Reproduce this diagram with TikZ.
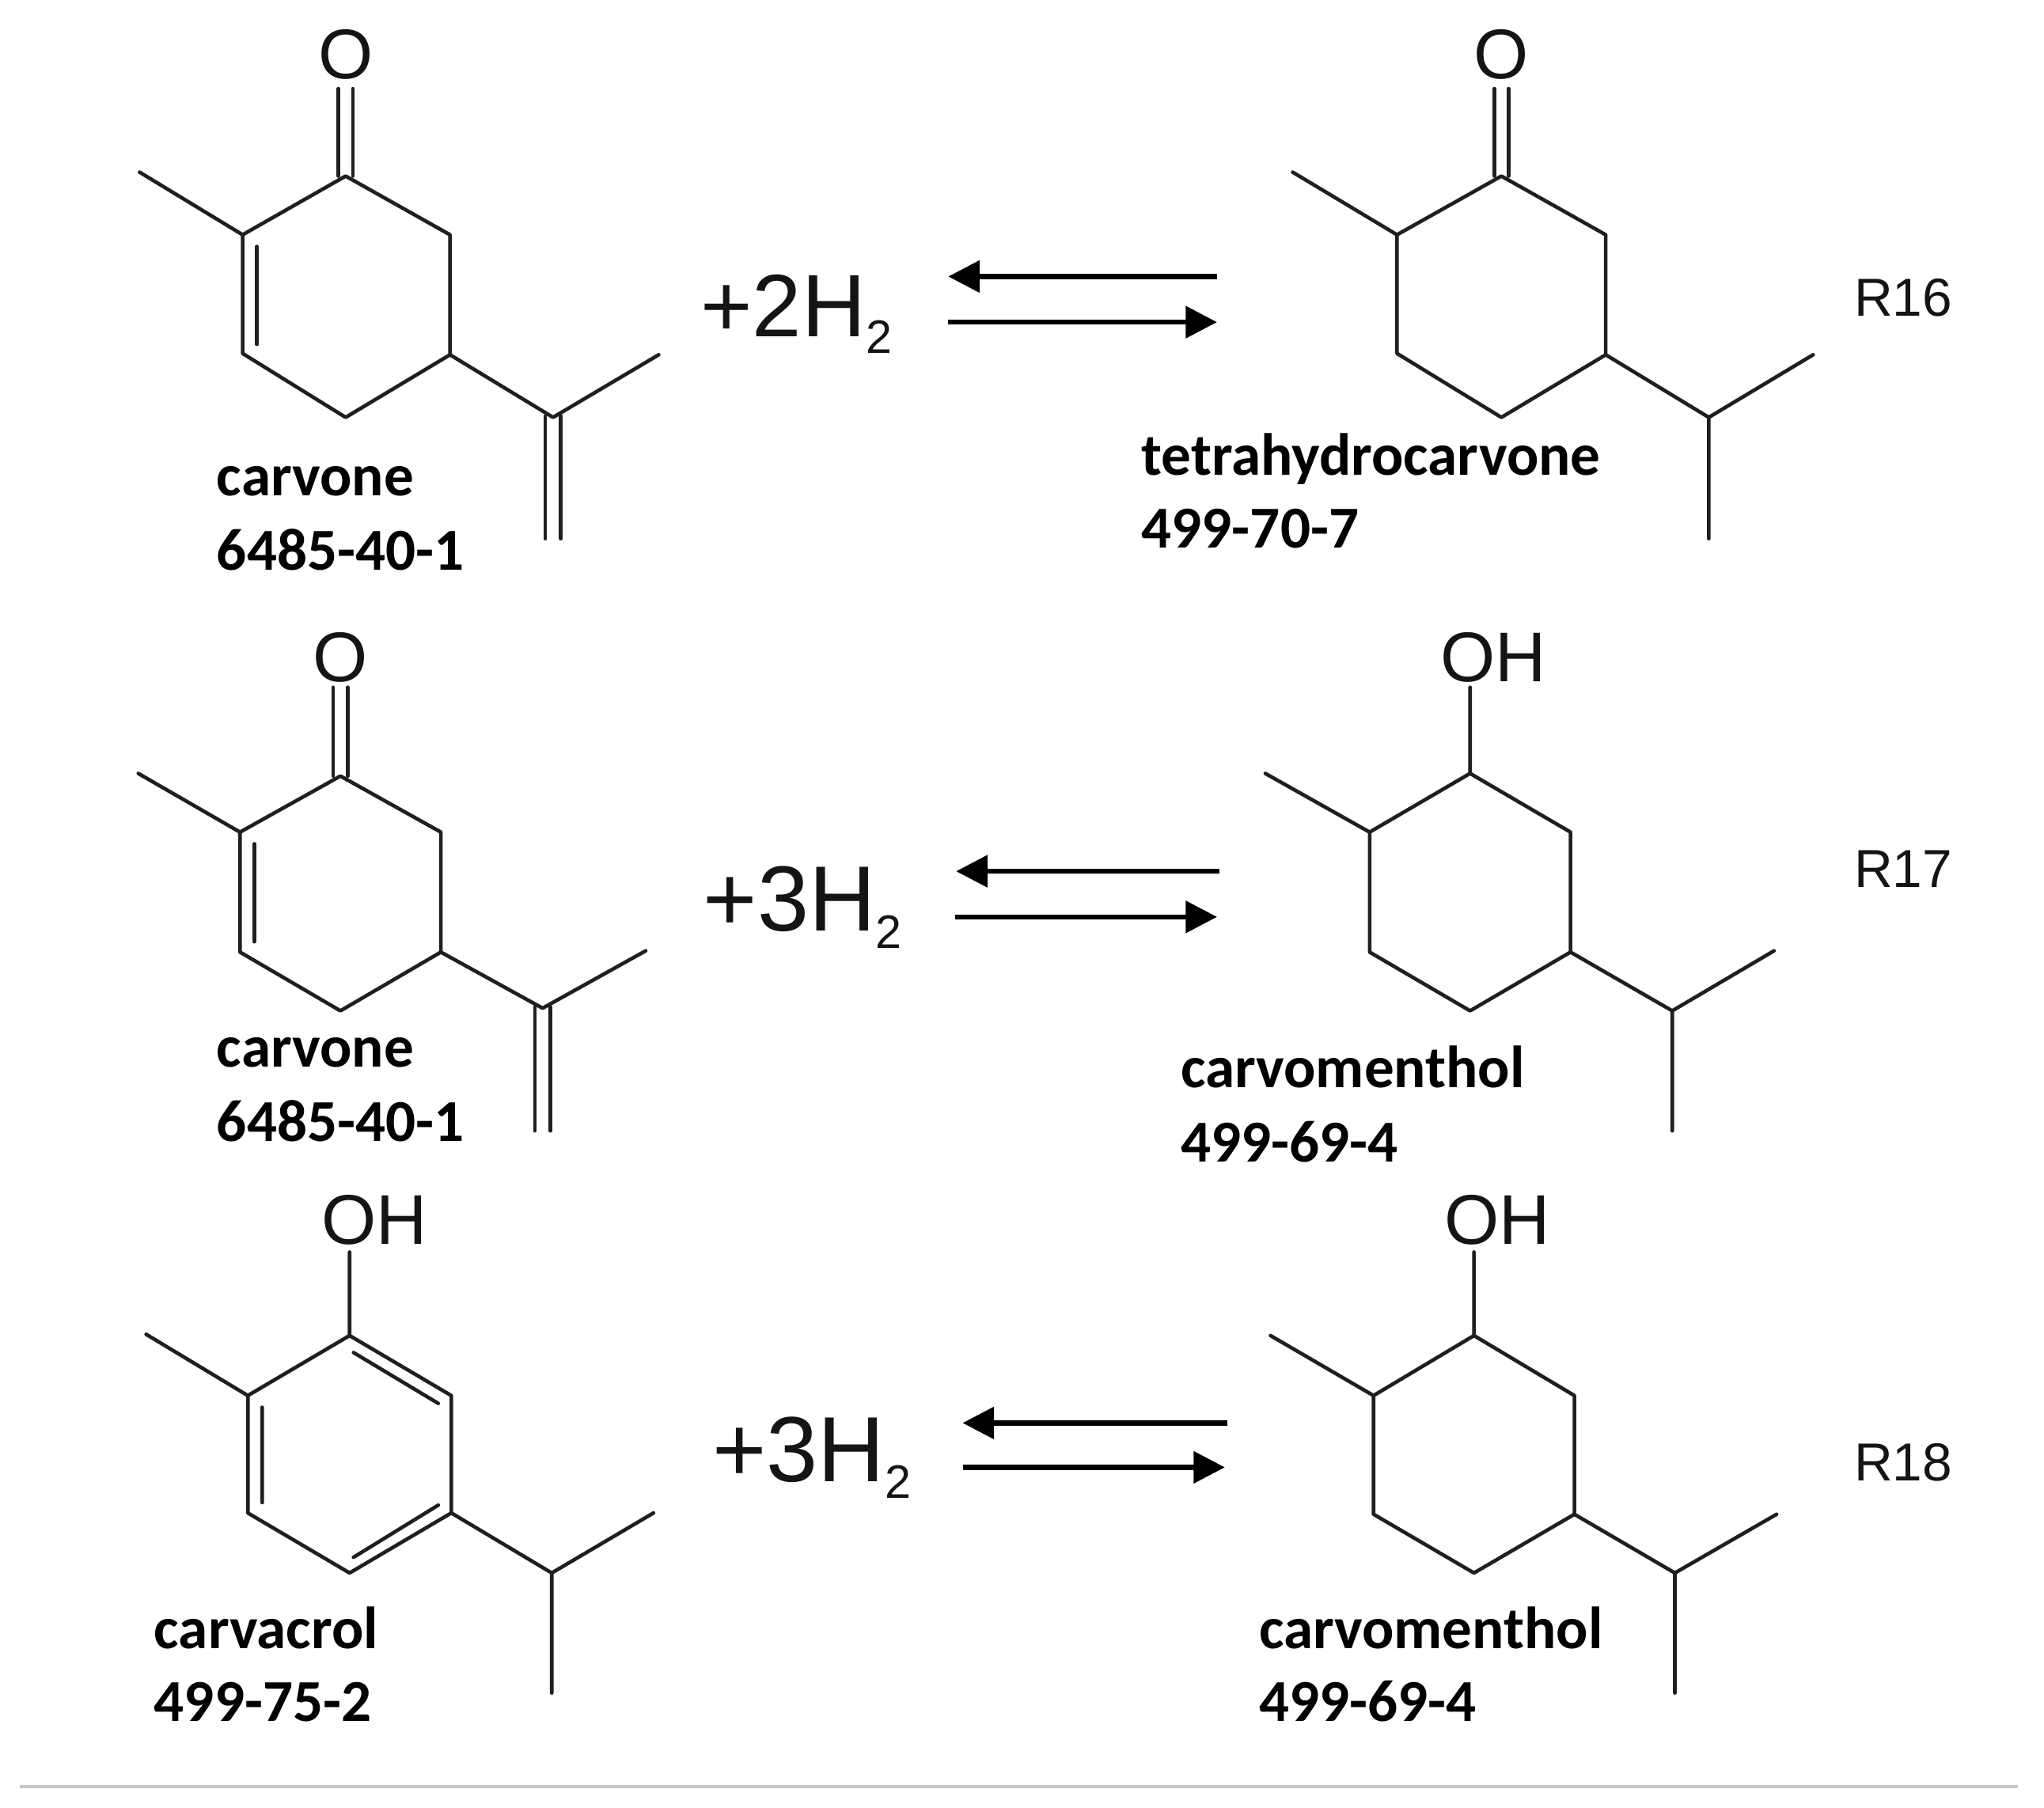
\documentclass[tikz,border=0pt]{standalone}
\usepackage{fontspec}
\setmainfont{Liberation Sans}
\newfontfamily\labelfont{Carlito}
\usetikzlibrary{arrows.meta}
\newcommand{\hplus}[1]{#1H{\fontsize{36}{36}\selectfont\raisebox{-13pt}{2}}}
\tikzset{
  x=1pt,y=-1pt,
  bond/.style={line width=2.8pt,draw=black!88,line cap=round,line join=round},
  eqarrow/.style={line width=3.8pt,draw=black,-{Triangle[length=24pt,width=24pt]}},
  atom/.style={font=\fontsize{54}{54}\selectfont,inner sep=0pt,text=black!92},
  reagent/.style={font=\fontsize{68}{68}\selectfont,inner sep=0pt,anchor=base west,text=black!92},
  reagentb/.style={reagent,font=\fontsize{71}{71}\selectfont},
  rlabel/.style={font=\fontsize{41}{41}\selectfont,inner sep=0pt,text=black!92},
  clabel/.style={font=\labelfont\bfseries\fontsize{45.6}{46}\selectfont,inner sep=0pt,anchor=base west,text=black},
}
\begin{document}
\begin{tikzpicture}
\useasboundingbox[fill=white] (0,0) rectangle (1567,1386.2);

% --- carvone (row 1)
\node[atom] (aO) at (265,42) {O};
\coordinate (a1) at (265,135); \coordinate (a2) at (186,180); \coordinate (a3) at (186,271);
\coordinate (a4) at (265,320); \coordinate (a5) at (345,272); \coordinate (a6) at (345,180);
\coordinate (aMe) at (107,132); \coordinate (aI) at (424,320); \coordinate (aIm) at (505,272);
\coordinate (aIda) at (418,319); \coordinate (aIdb) at (430,319);
\coordinate (aEa) at (418,413); \coordinate (aEb) at (430,413);
\coordinate (aCa) at (259.5,135); \coordinate (aCb) at (270.5,135);
\coordinate (aOa) at (259.5,68); \coordinate (aOb) at (270.5,68);
\coordinate (aDa) at (197,189); \coordinate (aDb) at (197,264);
\draw[bond] (a1) -- (a2) -- (a3) -- (a4) -- (a5) -- (a6) -- cycle;
\draw[bond] (aMe) -- (a2) (a5) -- (aI) -- (aIm);
\draw[bond] (aIda) -- (aEa) (aIdb) -- (aEb) (aCa) -- (aOa) (aCb) -- (aOb) (aDa) -- (aDb);

% --- tetrahydrocarvone (row 1)
\node[atom] (bO) at (1151,42) {O};
\coordinate (b1) at (1151,135); \coordinate (b2) at (1071,180); \coordinate (b3) at (1071,271);
\coordinate (b4) at (1151,320); \coordinate (b5) at (1231,272); \coordinate (b6) at (1231,180);
\coordinate (bMe) at (991,132); \coordinate (bI) at (1310,320); \coordinate (bIm) at (1390,272);
\coordinate (bId) at (1310,413);
\coordinate (bCa) at (1145.5,135); \coordinate (bCb) at (1156.5,135);
\coordinate (bOa) at (1145.5,68); \coordinate (bOb) at (1156.5,68);
\draw[bond] (b1) -- (b2) -- (b3) -- (b4) -- (b5) -- (b6) -- cycle;
\draw[bond] (bMe) -- (b2) (b5) -- (bI) -- (bIm) (bI) -- (bId);
\draw[bond] (bCa) -- (bOa) (bCb) -- (bOb);

% --- carvone (row 2)
\node[atom] (cO) at (261,504) {O};
\coordinate (c1) at (261,595); \coordinate (c2) at (184,638); \coordinate (c3) at (184,730);
\coordinate (c4) at (261,775); \coordinate (c5) at (338,730); \coordinate (c6) at (338,638);
\coordinate (cMe) at (106,593); \coordinate (cI) at (416,773); \coordinate (cIm) at (495,729);
\coordinate (cIda) at (410,772); \coordinate (cIdb) at (422,772);
\coordinate (cEa) at (410,867); \coordinate (cEb) at (422,867);
\coordinate (cCa) at (255.5,595); \coordinate (cCb) at (266.5,595);
\coordinate (cOa) at (255.5,527); \coordinate (cOb) at (266.5,527);
\coordinate (cDa) at (195,647); \coordinate (cDb) at (195,722);
\draw[bond] (c1) -- (c2) -- (c3) -- (c4) -- (c5) -- (c6) -- cycle;
\draw[bond] (cMe) -- (c2) (c5) -- (cI) -- (cIm);
\draw[bond] (cIda) -- (cEa) (cIdb) -- (cEb) (cCa) -- (cOa) (cCb) -- (cOb) (cDa) -- (cDb);

% --- carvomenthol (row 2)
\node[atom] (dO) at (1145,504) {OH};
\coordinate (dB) at (1127,527);
\coordinate (d1) at (1127,593); \coordinate (d2) at (1050,638); \coordinate (d3) at (1050,730);
\coordinate (d4) at (1127,775); \coordinate (d5) at (1204,730); \coordinate (d6) at (1204,638);
\coordinate (dMe) at (970,593); \coordinate (dI) at (1282,775); \coordinate (dIm) at (1360,729);
\coordinate (dId) at (1282,867);
\draw[bond] (d1) -- (d2) -- (d3) -- (d4) -- (d5) -- (d6) -- cycle;
\draw[bond] (dB) -- (d1) (dMe) -- (d2) (d5) -- (dI) -- (dIm) (dI) -- (dId);

% --- carvacrol (row 3)
\node[atom] (eO) at (287,935.5) {OH};
\coordinate (eB) at (268,960);
\coordinate (e1) at (268,1024); \coordinate (e2) at (190,1070); \coordinate (e3) at (190,1160);
\coordinate (e4) at (268,1206); \coordinate (e5) at (346,1160); \coordinate (e6) at (346,1070);
\coordinate (eMe) at (112,1023); \coordinate (eI) at (423,1206); \coordinate (eIm) at (501,1160);
\coordinate (eId) at (423,1298);
\coordinate (eDa) at (201,1079); \coordinate (eDb) at (201,1152);
\coordinate (eFa) at (271,1037); \coordinate (eFb) at (336,1076);
\coordinate (eGa) at (271,1194); \coordinate (eGb) at (336,1154);
\draw[bond] (e1) -- (e2) -- (e3) -- (e4) -- (e5) -- (e6) -- cycle;
\draw[bond] (eB) -- (e1) (eMe) -- (e2) (e5) -- (eI) -- (eIm) (eI) -- (eId);
\draw[bond] (eDa) -- (eDb) (eFa) -- (eFb) (eGa) -- (eGb);

% --- carvomenthol (row 3)
\node[atom] (fO) at (1148,935.5) {OH};
\coordinate (fB) at (1130,960);
\coordinate (f1) at (1130,1024); \coordinate (f2) at (1053,1070); \coordinate (f3) at (1053,1161);
\coordinate (f4) at (1130,1206); \coordinate (f5) at (1207,1161); \coordinate (f6) at (1207,1070);
\coordinate (fMe) at (974,1024); \coordinate (fI) at (1284,1206); \coordinate (fIm) at (1362,1161);
\coordinate (fId) at (1284,1298);
\draw[bond] (f1) -- (f2) -- (f3) -- (f4) -- (f5) -- (f6) -- cycle;
\draw[bond] (fB) -- (f1) (fMe) -- (f2) (f5) -- (fI) -- (fIm) (fI) -- (fId);

% --- reagents
\node[reagent] (r1) at (537,258) {\hplus{+2}};
\node[reagentb] (r2) at (539,714) {\hplus{+3}};
\node[reagentb] (r3) at (546,1136) {\hplus{+3}};

% --- equilibrium arrows
\coordinate (p1) at (933,212); \coordinate (q1) at (727,212);
\coordinate (p2) at (727,247); \coordinate (q2) at (933,247);
\coordinate (p3) at (935,668); \coordinate (q3) at (733,668);
\coordinate (p4) at (732,703); \coordinate (q4) at (933,703);
\coordinate (p5) at (941,1091); \coordinate (q5) at (738,1091);
\coordinate (p6) at (738,1125); \coordinate (q6) at (939,1125);
\draw[eqarrow] (p1) -- (q1);
\draw[eqarrow] (p2) -- (q2);
\draw[eqarrow] (p3) -- (q3);
\draw[eqarrow] (p4) -- (q4);
\draw[eqarrow] (p5) -- (q5);
\draw[eqarrow] (p6) -- (q6);

% --- reaction numbers
\node[rlabel] (n1) at (1459,228) {R16};
\node[rlabel] (n2) at (1459,666) {R17};
\node[rlabel] (n3) at (1459,1121) {R18};

% --- compound labels
\node[clabel] (l1) at (166,380) {carvone};
\node[clabel] (l2) at (166,437) {6485-40-1};
\node[clabel] (l3) at (875,364) {tetrahydrocarvone};
\node[clabel] (l4) at (875,420) {499-70-7};
\node[clabel] (l5) at (166,818) {carvone};
\node[clabel] (l6) at (166,875) {6485-40-1};
\node[clabel] (l7) at (905,834) {carvomenthol};
\node[clabel] (l8) at (905,891) {499-69-4};
\node[clabel] (l9) at (118,1264) {carvacrol};
\node[clabel] (l10) at (118,1320) {499-75-2};
\node[clabel] (l11) at (965,1264) {carvomenthol};
\node[clabel] (l12) at (965,1320) {499-69-4};

% --- rule at the foot
\coordinate (ra) at (15,1370); \coordinate (rb) at (1547,1370);
\draw[line width=2.4pt,draw=black!22] (ra) -- (rb);
\end{tikzpicture}
\end{document}
